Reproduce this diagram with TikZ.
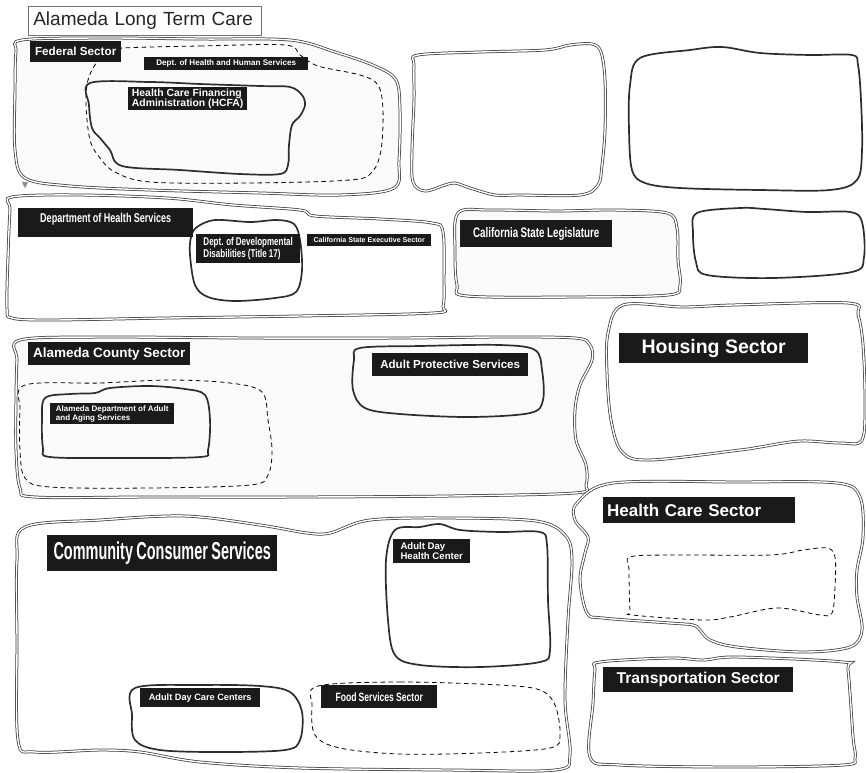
\documentclass[tikz,border=0pt]{standalone}
\usepackage{fontspec}
\setmainfont{Liberation Sans}
\newfontfamily\condfont[FakeStretch=0.71, WordSpace=0.9]{Liberation Sans}
\newfontfamily\narrowfont[FakeStretch=0.59, WordSpace=0.85]{Liberation Sans}
\definecolor{sectorgray}{RGB}{60,60,60}
\definecolor{agencygray}{RGB}{45,45,45}
\definecolor{tagblack}{RGB}{26,26,26}
\definecolor{paleshade}{RGB}{250,250,250}

\begin{document}
\begin{tikzpicture}[
      x=1pt, y=-1pt,
      sector/.style={draw=sectorgray, line width=0.75pt, double=white, double distance=1.4pt},
      agency/.style={draw=agencygray, line width=1.7pt},
      group/.style={draw=black, line width=0.8pt, dash pattern=on 4.5pt off 3.5pt},
      tag/.style={fill=tagblack, text=white, anchor=north west, inner xsep=3pt, inner ysep=0pt, align=left},
      blob/.style={smooth cycle, tension=0.55}
    ]
      \fill[white] (0,0) rectangle (866,772);
      \useasboundingbox (0,0) rectangle (866,772);

      % Sectors
      \draw[sector, fill=paleshade] plot[blob] coordinates {(22,40) (100,38) (200,39) (290,40) (335,52) (375,66) (396,80) (400,110) (399,160) (394,188) (340,195) (260,193) (150,190) (70,186) (25,178) (15,150) (15,90) (16,52)};
      \draw[sector] plot[blob] coordinates {(418,55) (480,52) (545,50) (570,45) (592,44) (601,52) (605,80) (605,130) (602,165) (598,185) (580,195) (520,195) (495,195) (470,188) (455,183) (445,185) (425,191) (413,182) (412,150) (414,100) (414,65)};
      \draw[sector] plot[blob] coordinates {(12,197) (80,195) (167,198) (233,205) (300,210) (315,216) (380,219) (432,223) (443,232) (444,280) (443,306) (433,313) (300,316) (167,318) (50,320) (12,318) (7,308) (8,257) (10,210)};
      \draw[sector, fill=paleshade] plot[blob] coordinates {(458,213) (490,210) (557,211) (613,210) (667,213) (677,228) (678,260) (680,285) (668,295) (573,297) (467,296) (457,285) (455,250)};
      \draw[sector] plot[blob] coordinates {(623,305) (683,307) (733,305) (848,303) (858,315) (863,345) (865,400) (862,440) (840,443) (800,441) (760,447) (740,450) (650,460) (622,452) (611,420) (607,373) (608,333)};
      \draw[sector, fill=paleshade] plot[blob] coordinates {(20,340) (100,337) (250,338) (400,338) (500,337) (575,338) (590,345) (592,360) (580,385) (575,410) (576,440) (586,465) (586,485) (575,493) (450,496) (300,497) (150,497) (35,497) (20,488) (16,450) (16,400) (17,360)};
      \draw[sector] plot[blob] coordinates {(577,503) (613,483) (737,482) (837,483) (860,497) (863,537) (857,570) (857,597) (862,630) (850,647) (803,652) (737,647) (710,640) (700,630) (693,625) (670,623) (603,618) (587,613) (580,580) (585,553) (588,537) (575,520)};
      \draw[sector] plot[blob] coordinates {(600,662) (670,658) (703,660) (737,657) (843,662) (848,670) (853,737) (855,758) (843,765) (737,767) (620,765) (590,757) (593,703) (595,670)};
      \draw[sector] plot[blob] coordinates {(25,527) (100,520) (185,516) (260,525) (307,533) (330,533) (370,520) (450,518) (536,521) (565,535) (572,560) (568,620) (565,700) (570,755) (555,770) (450,770) (300,768) (200,762) (140,752) (100,750) (35,752) (18,740) (17,640) (17,560)};

      % Groups
      \draw[group] plot[blob] coordinates {(123,48) (200,46) (285,45) (300,55) (318,66) (360,75) (378,85) (383,110) (381,150) (372,172) (350,180) (250,183) (150,182) (115,172) (100,158) (90,140) (86,105) (88,80) (97,62) (110,52)};
      \draw[group] plot[blob] coordinates {(25,385) (100,383) (170,380) (230,383) (262,392) (268,420) (272,450) (268,475) (250,485) (150,488) (50,487) (25,478) (20,450) (20,410)};
      \draw[group] plot[blob] coordinates {(630,557) (670,555) (770,555) (803,550) (827,548) (835,557) (835,587) (832,613) (820,615) (777,608) (730,617) (703,620) (633,615) (630,610) (629,570)};
      \draw[group] plot[blob] coordinates {(318,686) (400,682) (500,685) (540,690) (555,705) (560,735) (550,748) (480,753) (400,754) (340,748) (315,735) (312,705)};

      % Agencies
      \draw[agency] plot[blob] coordinates {(90,83) (150,82) (200,84) (260,86) (290,87) (302,95) (305,105) (300,116) (292,125) (289,145) (288,165) (280,174) (240,174) (180,170) (122,166) (110,150) (100,138) (92,128) (89,105)};
      \draw[agency] plot[blob] coordinates {(640,58) (690,50) (722,47) (760,53) (810,55) (852,55) (858,65) (861,100) (862,150) (857,180) (830,190) (760,190) (680,188) (645,183) (632,170) (629,130) (630,85)};
      \draw[agency] plot[blob] coordinates {(197,227) (215,220) (250,222) (277,220) (294,224) (300,240) (302,270) (296,292) (275,298) (235,301) (208,297) (195,285) (190,255) (191,237)};
      \draw[agency] plot[blob] coordinates {(697,213) (740,208) (765,209) (807,212) (850,212) (862,222) (864,257) (852,272) (773,278) (707,275) (696,262) (693,233)};
      \draw[agency] plot[blob] coordinates {(360,348) (420,346) (500,345) (535,350) (542,370) (543,400) (530,413) (470,417) (400,414) (365,408) (353,390) (354,360)};
      \draw[agency] plot[blob] coordinates {(45,398) (70,394) (95,393) (110,388) (150,386) (185,389) (205,395) (210,420) (208,450) (200,457) (120,458) (50,457) (43,448) (42,420)};
      \draw[agency] plot[blob] coordinates {(395,530) (420,527) (440,524) (460,530) (500,532) (540,532) (547,545) (548,600) (550,650) (540,662) (480,667) (420,665) (395,655) (388,620) (386,560)};
      \draw[agency] plot[blob] coordinates {(135,688) (200,685) (260,686) (290,692) (302,712) (300,740) (285,750) (220,752) (160,750) (135,740) (132,715)};

      % Marker
      \fill[black!45] (22,182) -- (28,182) -- (25,188) -- cycle;

      % Title
      \node[draw=black!55, line width=0.6pt, fill=white, anchor=north west, minimum height=29pt, text width=223pt, inner xsep=5pt, font=\fontsize{19}{20}\selectfont, text=black!85] (title) at (28,6) {Alameda Long Term Care};

      % Labels
      \node[tag, minimum width=91pt, minimum height=21pt, font=\fontsize{11.7}{14}\selectfont\bfseries] (federal) at (30,41) {Federal Sector};
      \node[tag, minimum width=164pt, minimum height=13pt, font=\fontsize{8.1}{9}\selectfont\bfseries] (dhhs) at (144,57) {Dept. of Health and Human Services};
      \node[tag, minimum width=119pt, minimum height=23pt, font=\fontsize{10.4}{10.5}\selectfont\bfseries] (hcfa) at (128,87) {Health Care Financing\\Administration (HCFA)};
      \node[tag, minimum width=175pt, minimum height=29pt, text depth=9pt, font=\condfont\fontsize{12.8}{15}\selectfont\bfseries] (dhs) at (18,208) {Department of Health Services};
      \node[tag, minimum width=104pt, minimum height=29pt, font=\condfont\fontsize{11.3}{12}\selectfont\bfseries] (dds) at (196,234) {Dept. of Developmental\\Disabilities (Title 17)};
      \node[tag, minimum width=124pt, minimum height=12pt, font=\fontsize{7.1}{8}\selectfont\bfseries] (executive) at (307,234) {California State Executive Sector};
      \node[tag, minimum width=152pt, minimum height=27pt, font=\condfont\fontsize{13.8}{16}\selectfont\bfseries] (legislature) at (460,220) {California State Legislature};
      \node[tag, minimum width=189pt, minimum height=30pt, font=\fontsize{19.5}{22}\selectfont\bfseries] (housing) at (619,333) {Housing Sector};
      \node[tag, minimum width=162pt, minimum height=23pt, font=\fontsize{13.5}{15}\selectfont\bfseries] (county) at (28,342) {Alameda County Sector};
      \node[tag, minimum width=156pt, minimum height=23pt, font=\fontsize{11.6}{13}\selectfont\bfseries] (protective) at (372,353) {Adult Protective Services};
      \node[tag, minimum width=124pt, minimum height=21pt, font=\fontsize{8}{8.5}\selectfont\bfseries] (aging) at (50,403) {Alameda Department of Adult\\and Aging Services};
      \node[tag, minimum height=26pt, text width=184pt, inner xsep=4pt, font=\fontsize{17}{19}\selectfont\bfseries] (healthcare) at (603,497) {Health Care Sector};
      \node[tag, minimum width=190pt, minimum height=25pt, font=\fontsize{15.7}{18}\selectfont\bfseries] (transport) at (603,667) {Transportation Sector};
      \node[tag, minimum width=230pt, minimum height=36pt, font=\narrowfont\fontsize{24.5}{27}\selectfont\bfseries] (consumer) at (47,535) {Community Consumer Services};
      \node[tag, minimum width=77pt, minimum height=24pt, font=\fontsize{9.6}{9.8}\selectfont\bfseries] (dayhealth) at (393,539) {Adult Day\\Health Center};
      \node[tag, minimum width=120pt, minimum height=19pt, font=\fontsize{9.2}{11}\selectfont\bfseries] (daycare) at (140,688) {Adult Day Care Centers};
      \node[tag, minimum width=116pt, minimum height=23pt, font=\condfont\fontsize{12.1}{15}\selectfont\bfseries] (food) at (321,685) {Food Services Sector};

    \end{tikzpicture}
\end{document}
